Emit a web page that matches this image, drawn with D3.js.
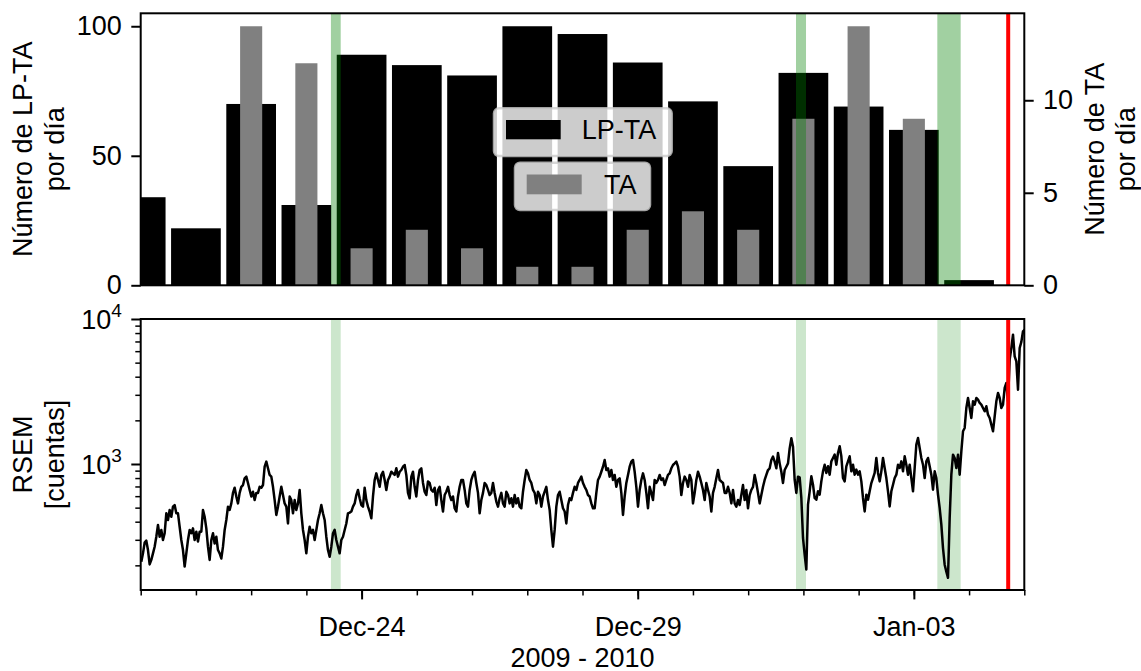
<!DOCTYPE html>
<html>
<head>
<meta charset="utf-8">
<script src="https://cdn.jsdelivr.net/npm/d3@7"></script>
<style>
  html, body { margin: 0; padding: 0; background: #fff; }
  svg { display: block; }
  text { font-family: "Liberation Sans", Arial, Helvetica, sans-serif; fill: #000; }
</style>
</head>
<body>
<svg id="chart" width="1141" height="671"></svg>
<script>
// ---- data -------------------------------------------------------------
const days = ["2009-12-20","2009-12-21","2009-12-22","2009-12-23","2009-12-24","2009-12-25",
              "2009-12-26","2009-12-27","2009-12-28","2009-12-29","2009-12-30","2009-12-31",
              "2010-01-01","2010-01-02","2010-01-03","2010-01-04"];
// LP-TA events per day (left axis)
const lptaPerDay = [34, 22, 70, 31, 89, 85, 81, 100, 97, 86, 71, 46, 82, 69, 60, 2];
// TA events per day (right axis)
const taPerDay   = [0, 0, 14, 12, 2, 3, 2, 1, 1, 3, 4, 3, 9, 14, 9, 0];

// shaded time windows
const windows = [["2009-12-23T10:40", "2009-12-23T14:55"],
                 ["2009-12-31T20:47", "2010-01-01T01:08"],
                 ["2010-01-03T10:12", "2010-01-03T20:21"]];
// vertical marker
const markerTime = "2010-01-04T17:00";

// RSEM counts, regular sampling
const rsemStart = "2009-12-20T00:16";
const rsemStepMinutes = 43.46;
const rsemCounts = [
  212,242,287,296,255,203,218,242,269,315, 380,315,351,299,333,457,411,482,433,508,
  521,457,457,369,299,255,196,242,299,351, 333,360,299,341,292,341,341,482,433,360,
  269,218,299,333,283,315,255,242,223,269, 351,411,508,482,535,632,686,597,535,632,
  696,716,797,818,740,662,597,644,564,632, 632,696,686,716,958,1038,934,840,818,696,
  564,445,508,597,696,611,535,508,389,597, 564,457,564,482,535,662,457,351,299,242,
  315,369,333,351,299,351,411,457,521,457, 411,315,255,229,269,333,351,299,269,242,
  299,315,351,389,457,462,470,508,535,611, 662,580,521,508,
  686,564,508,470,422,597,776,862,776,696, 840,884,776,662,776,818,884,862,840,934,
  818,884,909,958,984,840,632,580,818,884, 696,597,776,909,934,740,644,611,757,740,
  662,644,686,521,662,696,564,470,611,644, 696,611,564,597,495,470,597,696,776,776,
  662,535,508,662,776,840,884,740,632,457, 564,632,740,716,662,611,632,740,632,551,
  508,580,632,535,508,644,611,535,580,508, 611,535,580,508,495,644,776,909,862,776,
  740,662,632,535,644,611,508,597,644,696, 564,482,351,269,351,508,611,644,564,495,
  470,389,521,580,564,632,696,662,740,776, 818,740,696,
  662,611,597,535,495,495,632,776,818,884, 958,1066,909,934,818,909,776,840,696,776,
  797,632,445,597,740,840,958,1038,1066,884, 696,508,662,776,862,776,632,495,696,632,
  564,776,740,776,840,776,797,716,776,840, 862,934,984,1010,1038,958,818,611,740,818,
  776,696,840,776,535,632,776,884,818,740, 662,564,740,662,597,470,632,696,797,909,
  776,757,740,632,632,696,632,535,662,535, 508,564,521,611,716,564,662,495,611,662,
  696,840,740,632,535,611,696,776,840,909, 934,1066,1124,1038,934,1191,1010,884,740,909,
  958,1010,1282,1503,1317,776,632,818,
  809,583,309,237,187,524,648,822,720,583, 567,648,614,759,890,989,867,964,844,1043,
  1100,1160,989,1191,1324,1130,800,759,964,1043, 1130,890,989,844,914,844,890,759,583,471,
  614,567,648,739,800,867,1100,867,759,890, 1100,938,800,648,510,648,720,800,844,989,
  938,1043,890,1130,989,844,989,800,648,938, 1360,1512,1290,1100,989,800,1043,1100,964,844,
  665,890,800,614,497,382,263,202,181,164, 424,844,1160,1100,938,1160,844,1222,1681,1772,
  2434,2853,2434,2077,2706,2566,2853,2778,2635,2566, 2434,2309,2500,2190,2077,1868,1681,2133,2706,3088,
  2853,2434,2566,3344,3620,2706,5244,6312,7800,5525, 5107,3256,6312,6953,8224,8445
];

// axes ranges and ticks
const xDomain = ["2009-12-20", "2010-01-05"];
const xMajorTicks = ["2009-12-24", "2009-12-29", "2010-01-03"];
const lptaDomain = [0, 105];
const taDomain = [0, 14.7];
const rsemDomain = [135.2, 10000];
const lptaTicks = [0, 50, 100];
const taTicks = [0, 5, 10];
const rsemMajorTicks = [1000, 10000];
const rsemMinorTicks = [200,300,400,500,600,700,800,900,2000,3000,4000,5000,6000,7000,8000,9000];

// ---- layout -------------------------------------------------------------
const FS = 27;
const topBox = { l: 140.7, r: 1024.3, t: 13.3, b: 285.3 };
const botBox = { l: 140.7, r: 1024.3, t: 319, b: 590 };
const MAJ = 9.4, MIN = 5.4, PAD = 9.4;
const DAY = 864e5;

const parseDay = d3.timeParse("%Y-%m-%d");
const parseTime = d3.timeParse("%Y-%m-%dT%H:%M");
const svg = d3.select("#chart");

const x = d3.scaleTime().domain(xDomain.map(parseDay)).range([topBox.l, topBox.r]);
const yL = d3.scaleLinear().domain(lptaDomain).range([topBox.b, topBox.t]);
const yR = d3.scaleLinear().domain(taDomain).range([topBox.b, topBox.t]);
const yLog = d3.scaleLog().domain(rsemDomain).range([botBox.b, botBox.t]);

const defs = svg.append("defs");
function clip(id, b) {
  defs.append("clipPath").attr("id", id).append("rect")
    .attr("x", b.l).attr("y", b.t).attr("width", b.r - b.l).attr("height", b.b - b.t);
}
clip("clipTop", topBox);
clip("clipBot", botBox);

// ---- top panel: daily counts ---------------------------------------------
const gTop = svg.append("g").attr("clip-path", "url(#clipTop)");
const dayDates = days.map(parseDay);
const barSpan = (d, half) => [x(new Date(+d - half * DAY)), x(new Date(+d + half * DAY))];

gTop.selectAll("rect.lpta").data(dayDates).join("rect").attr("class", "lpta")
  .attr("x", d => barSpan(d, 0.45)[0])
  .attr("width", d => barSpan(d, 0.45)[1] - barSpan(d, 0.45)[0])
  .attr("y", (d, i) => yL(lptaPerDay[i]))
  .attr("height", (d, i) => yL(0) - yL(lptaPerDay[i]))
  .attr("fill", "#000");

gTop.selectAll("rect.ta").data(dayDates).join("rect").attr("class", "ta")
  .attr("x", d => barSpan(d, 0.2)[0])
  .attr("width", d => barSpan(d, 0.2)[1] - barSpan(d, 0.2)[0])
  .attr("y", (d, i) => yR(taPerDay[i]))
  .attr("height", (d, i) => yR(0) - yR(taPerDay[i]))
  .attr("fill", "#808080");

gTop.selectAll("rect.win").data(windows).join("rect").attr("class", "win")
  .attr("x", d => x(parseTime(d[0])))
  .attr("width", d => x(parseTime(d[1])) - x(parseTime(d[0])))
  .attr("y", topBox.t).attr("height", topBox.b - topBox.t)
  .attr("fill", "#008000").attr("fill-opacity", 0.37);

gTop.append("line")
  .attr("x1", x(parseTime(markerTime))).attr("x2", x(parseTime(markerTime)))
  .attr("y1", topBox.t).attr("y2", topBox.b)
  .attr("stroke", "#ff0000").attr("stroke-width", 4);

// ---- bottom panel: RSEM --------------------------------------------------
const gBot = svg.append("g").attr("clip-path", "url(#clipBot)");
gBot.selectAll("rect.win").data(windows).join("rect").attr("class", "win")
  .attr("x", d => x(parseTime(d[0])))
  .attr("width", d => x(parseTime(d[1])) - x(parseTime(d[0])))
  .attr("y", botBox.t).attr("height", botBox.b - botBox.t)
  .attr("fill", "#008000").attr("fill-opacity", 0.2);

const t0 = parseTime(rsemStart);
const rsem = rsemCounts.map((v, i) => ({ t: new Date(+t0 + i * rsemStepMinutes * 60000), v }));
gBot.append("path").datum(rsem)
  .attr("d", d3.line().x(d => x(d.t)).y(d => yLog(d.v)))
  .attr("fill", "none").attr("stroke", "#000").attr("stroke-width", 2.5)
  .attr("stroke-linejoin", "round");

gBot.append("line")
  .attr("x1", x(parseTime(markerTime))).attr("x2", x(parseTime(markerTime)))
  .attr("y1", botBox.t).attr("y2", botBox.b)
  .attr("stroke", "#ff0000").attr("stroke-width", 4);

// ---- axes ---------------------------------------------------------------
function tidy(g) {
  g.select(".domain").remove();
  g.selectAll(".tick line").attr("stroke", "#000").attr("stroke-width", 2);
  g.selectAll(".tick text").attr("font-size", FS).attr("fill", "#000")
    .attr("font-family", "Liberation Sans, Arial, sans-serif");
}

svg.append("g").attr("transform", `translate(${topBox.l},0)`)
  .call(d3.axisLeft(yL).tickValues(lptaTicks).tickSize(MAJ).tickPadding(PAD).tickFormat(d3.format("d")))
  .call(tidy);
svg.append("g").attr("transform", `translate(${topBox.r},0)`)
  .call(d3.axisRight(yR).tickValues(taTicks).tickSize(MAJ).tickPadding(PAD).tickFormat(d3.format("d")))
  .call(tidy);

// log axis: minor ticks, then major ticks with power labels
const gLog = svg.append("g").attr("transform", `translate(${botBox.l},0)`);
gLog.call(d3.axisLeft(yLog).tickValues(rsemMinorTicks).tickSize(MIN).tickFormat(""))
  .call(tidy);
gLog.selectAll(".tick line").attr("stroke-width", 1.5);
const gLogMaj = svg.append("g").attr("transform", `translate(${botBox.l},0)`);
gLogMaj.call(d3.axisLeft(yLog).tickValues(rsemMajorTicks).tickSize(MAJ).tickFormat(""))
  .call(tidy);
gLogMaj.selectAll(".tick").append("text")
  .attr("x", -(MAJ + PAD)).attr("dy", "0.36em")
  .attr("text-anchor", "end").attr("font-size", FS)
  .each(function (d) {
    const t = d3.select(this);
    t.append("tspan").text("10");
    t.append("tspan").attr("font-size", 19).attr("dy", "-0.62em")
      .text(String(Math.round(Math.log10(d))));
  });

// time axis: daily minor ticks, labelled major ticks
const gXmin = svg.append("g").attr("transform", `translate(0,${botBox.b})`);
gXmin.call(d3.axisBottom(x).ticks(d3.timeDay.every(1)).tickSize(MIN).tickFormat(""))
  .call(tidy);
gXmin.selectAll(".tick line").attr("stroke-width", 1.5);
svg.append("g").attr("transform", `translate(0,${botBox.b})`)
  .call(d3.axisBottom(x).tickValues(xMajorTicks.map(parseDay)).tickSize(MAJ).tickPadding(17.5)
    .tickFormat(d3.timeFormat("%b-%d")))
  .call(tidy);

// frames
[topBox, botBox].forEach(b => {
  svg.append("rect").attr("x", b.l).attr("y", b.t)
    .attr("width", b.r - b.l).attr("height", b.b - b.t)
    .attr("fill", "none").attr("stroke", "#000").attr("stroke-width", 2);
});

// ---- axis titles --------------------------------------------------------
function vTitle(lines, cx, cy, gap) {
  const g = svg.append("g");
  lines.forEach((s, i) => {
    const px = cx + i * gap;
    g.append("text").attr("transform", `translate(${px},${cy}) rotate(-90)`)
      .attr("text-anchor", "middle").attr("dominant-baseline", "central")
      .attr("font-size", FS).text(s);
  });
}
vTitle(["Número de LP-TA", "por día"], 23, (topBox.t + topBox.b) / 2, 32.4);
vTitle(["RSEM", "[cuentas]"], 23, (botBox.t + botBox.b) / 2, 32.4);
vTitle(["Número de TA", "por día"], 1095, (topBox.t + topBox.b) / 2, 31);

svg.append("text").attr("x", (botBox.l + botBox.r) / 2).attr("y", 666.5)
  .attr("text-anchor", "middle")
  .attr("font-size", FS).text("2009 - 2010");

// ---- legends ------------------------------------------------------------
function legendBox(bx, by, bw, bh, hx, hy, hw, hh, color, label, tx, ty) {
  const g = svg.append("g");
  g.append("rect").attr("x", bx).attr("y", by).attr("width", bw).attr("height", bh)
    .attr("rx", 5).attr("fill", "#fff").attr("fill-opacity", 0.8)
    .attr("stroke", "#cccccc").attr("stroke-opacity", 0.8).attr("stroke-width", 2.5);
  g.append("rect").attr("x", hx).attr("y", hy).attr("width", hw).attr("height", hh).attr("fill", color);
  g.append("text").attr("x", tx).attr("y", ty).attr("font-size", FS).text(label);
}
legendBox(494, 108.3, 177.7, 47.7, 506, 120, 54.7, 19.3, "#000", "LP-TA", 581.7, 139.3);
legendBox(515, 162.7, 135, 47.3, 526.7, 174.5, 55, 19.8, "#808080", "TA", 604, 194.3);
</script>
</body>
</html>
